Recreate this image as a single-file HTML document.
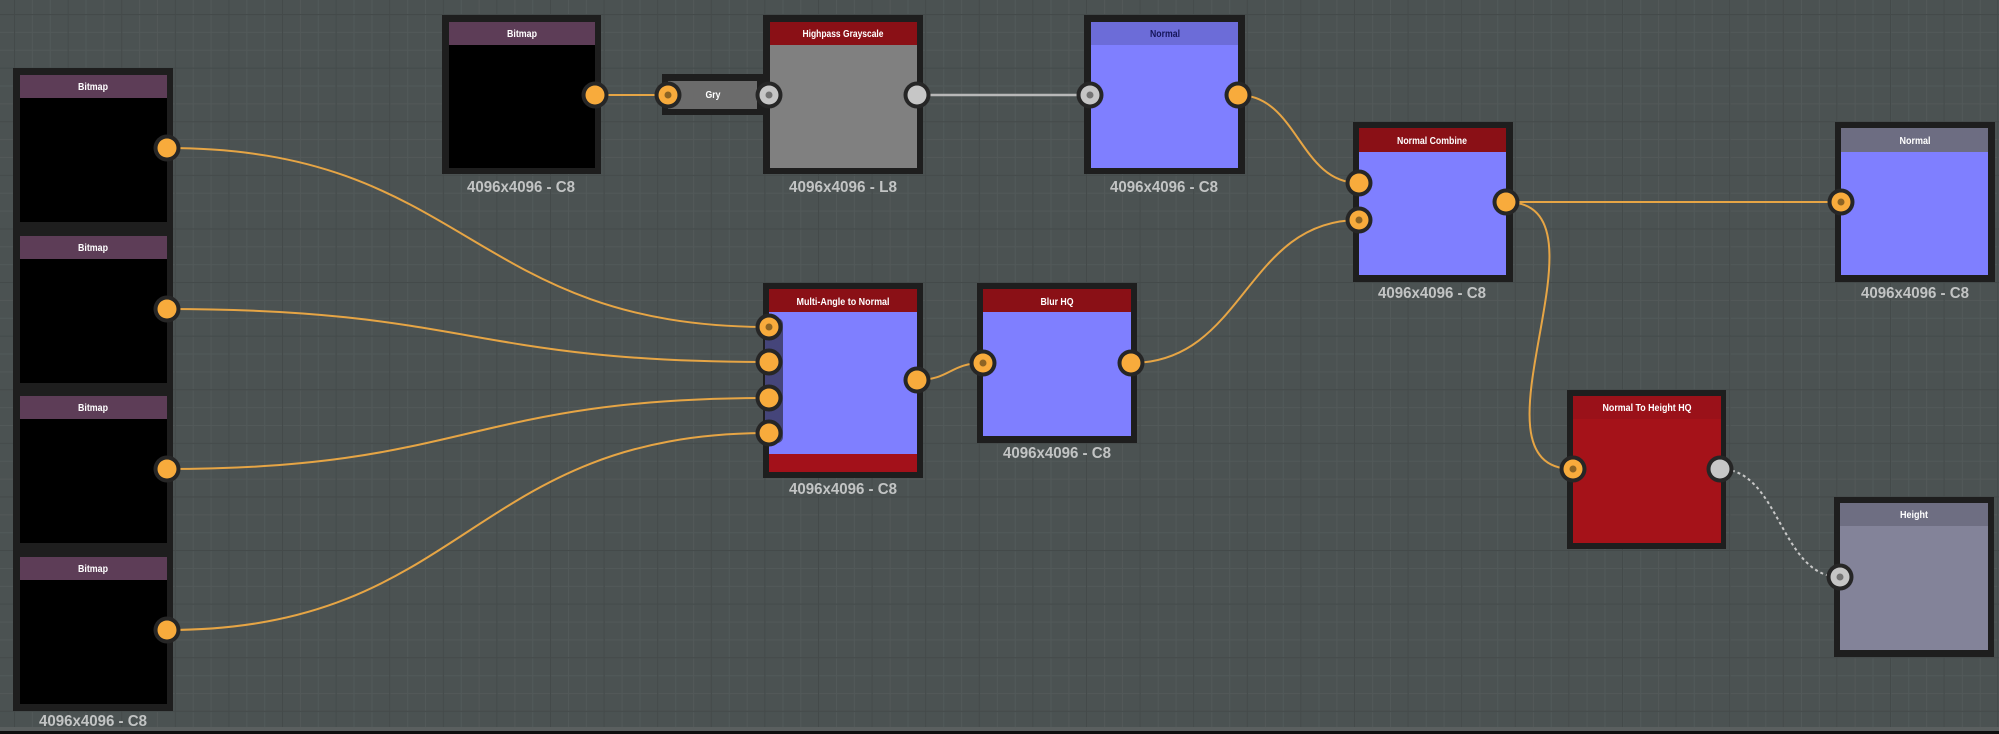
<!DOCTYPE html>
<html>
<head>
<meta charset="utf-8">
<style>
html,body{margin:0;padding:0;background:#4b5252;}
body{width:1999px;height:734px;overflow:hidden;}
svg{display:block;}
.h{font-family:"Liberation Sans",sans-serif;font-weight:bold;font-size:10px;fill:#ffffff;text-anchor:middle;}
.l{font-family:"Liberation Sans",sans-serif;font-weight:bold;font-size:16px;fill:#c2c4c4;text-anchor:middle;}
</style>
</head>
<body>
<svg width="1999" height="734" viewBox="0 0 1999 734" xmlns="http://www.w3.org/2000/svg">
<defs>
<pattern id="minor" x="14" y="14" width="17.87" height="17.87" patternUnits="userSpaceOnUse">
<path d="M0 0.5H17.87M0.5 0V17.87" stroke="#525959" stroke-width="1" fill="none"/>
</pattern>
<pattern id="major" x="14" y="14" width="53.6" height="53.6" patternUnits="userSpaceOnUse">
<path d="M0 0.5H53.6M0.5 0V53.6" stroke="#444a4a" stroke-width="1.2" fill="none"/>
</pattern>
</defs>
<rect x="0" y="0" width="1999" height="734" fill="#4b5252"/>
<rect x="0" y="0" width="1999" height="734" fill="url(#minor)"/>
<rect x="0" y="0" width="1999" height="734" fill="url(#major)"/>
<rect x="0" y="727" width="1999" height="4" fill="#5a5f5f"/>
<rect x="0" y="731" width="1999" height="3" fill="#0e0e0e"/>

<!-- wires -->
<g fill="none" stroke="#e6a545" stroke-width="2">
<path d="M167 148 C468 148 468 327 769 327"/>
<path d="M167 309 C468 309 468 362 769 362"/>
<path d="M167 469 C468 469 468 398 769 398"/>
<path d="M167 630 C468 630 468 433 769 433"/>
<path d="M595 95 L668 95"/>
<path d="M1238 95 C1298 95 1299 183 1359 183"/>
<path d="M917 380 C950 380 950 363 983 363"/>
<path d="M1131 363 C1245 363 1245 220 1359 220"/>
<path d="M1506 202 L1841 202"/>
<path d="M1506 202 C1621 202 1458 469 1573 469"/>
</g>
<path d="M917 95 L1090 95" stroke="#b8b8b8" stroke-width="2.5" fill="none"/>
<path d="M1720 469 C1780 469 1780 577 1840 577" stroke="#c8c8c8" stroke-width="2" stroke-dasharray="3 3" fill="none"/>

<!-- Left column bitmaps -->
<rect x="13" y="68" width="160" height="643" fill="#1e1e1e"/>
<rect x="20" y="75" width="147" height="23" fill="#5d3d57"/>
<rect x="20" y="98" width="147" height="124" fill="#000"/>
<rect x="20" y="236" width="147" height="23" fill="#5d3d57"/>
<rect x="20" y="259" width="147" height="124" fill="#000"/>
<rect x="20" y="396" width="147" height="23" fill="#5d3d57"/>
<rect x="20" y="419" width="147" height="124" fill="#000"/>
<rect x="20" y="557" width="147" height="23" fill="#5d3d57"/>
<rect x="20" y="580" width="147" height="124" fill="#000"/>
<text class="h" x="93" y="90" textLength="30" lengthAdjust="spacingAndGlyphs">Bitmap</text>
<text class="h" x="93" y="251" textLength="30" lengthAdjust="spacingAndGlyphs">Bitmap</text>
<text class="h" x="93" y="411" textLength="30" lengthAdjust="spacingAndGlyphs">Bitmap</text>
<text class="h" x="93" y="572" textLength="30" lengthAdjust="spacingAndGlyphs">Bitmap</text>
<text class="l" x="93" y="726" textLength="108" lengthAdjust="spacingAndGlyphs">4096x4096 - C8</text>

<!-- Top bitmap -->
<rect x="442" y="15" width="159" height="159" fill="#1e1e1e"/>
<rect x="449" y="22" width="146" height="23" fill="#5d3d57"/>
<rect x="449" y="45" width="146" height="123" fill="#000"/>
<text class="h" x="522" y="37" textLength="30" lengthAdjust="spacingAndGlyphs">Bitmap</text>
<text class="l" x="521" y="192" textLength="108" lengthAdjust="spacingAndGlyphs">4096x4096 - C8</text>

<!-- Gry -->
<rect x="662" y="74" width="101" height="41" fill="#1e1e1e"/>
<rect x="668" y="81" width="89" height="28" fill="#6b6b6b"/>
<text class="h" x="713" y="98" textLength="15" lengthAdjust="spacingAndGlyphs">Gry</text>

<!-- Highpass -->
<rect x="763" y="15" width="160" height="159" fill="#1e1e1e"/>
<rect x="770" y="22" width="147" height="23" fill="#8a1016"/>
<rect x="770" y="45" width="147" height="123" fill="#808080"/>
<text class="h" x="843" y="37" textLength="81" lengthAdjust="spacingAndGlyphs">Highpass Grayscale</text>
<text class="l" x="843" y="192" textLength="108" lengthAdjust="spacingAndGlyphs">4096x4096 - L8</text>

<!-- Normal top -->
<rect x="1084" y="15" width="161" height="159" fill="#1e1e1e"/>
<rect x="1091" y="22" width="147" height="23" fill="#6c6cd8"/>
<rect x="1091" y="45" width="147" height="123" fill="#7f7fff"/>
<text class="h" x="1165" y="37" textLength="30" lengthAdjust="spacingAndGlyphs" style="fill:#15155a">Normal</text>
<text class="l" x="1164" y="192" textLength="108" lengthAdjust="spacingAndGlyphs">4096x4096 - C8</text>

<!-- Normal Combine -->
<rect x="1353" y="122" width="160" height="160" fill="#1e1e1e"/>
<rect x="1359" y="128" width="147" height="24" fill="#8a1016"/>
<rect x="1359" y="152" width="147" height="123" fill="#7f7fff"/>
<text class="h" x="1432" y="144" textLength="70" lengthAdjust="spacingAndGlyphs">Normal Combine</text>
<text class="l" x="1432" y="298" textLength="108" lengthAdjust="spacingAndGlyphs">4096x4096 - C8</text>

<!-- Output Normal -->
<rect x="1835" y="122" width="160" height="160" fill="#1e1e1e"/>
<rect x="1841" y="128" width="147" height="24" fill="#6d6d82"/>
<rect x="1841" y="152" width="147" height="123" fill="#7f7fff"/>
<text class="h" x="1915" y="144" textLength="31" lengthAdjust="spacingAndGlyphs">Normal</text>
<text class="l" x="1915" y="298" textLength="108" lengthAdjust="spacingAndGlyphs">4096x4096 - C8</text>

<!-- Multi-Angle to Normal -->
<rect x="763" y="283" width="160" height="195" fill="#1e1e1e"/>
<rect x="769" y="289" width="148" height="23" fill="#8a1016"/>
<rect x="769" y="312" width="148" height="142" fill="#7f7fff"/>
<rect x="769" y="454" width="148" height="18" fill="#a3111a"/>
<rect x="765" y="318" width="18" height="125" rx="6" fill="#45457a"/>
<text class="h" x="843" y="305" textLength="93" lengthAdjust="spacingAndGlyphs">Multi-Angle to Normal</text>
<text class="l" x="843" y="494" textLength="108" lengthAdjust="spacingAndGlyphs">4096x4096 - C8</text>

<!-- Blur HQ -->
<rect x="977" y="283" width="160" height="160" fill="#1e1e1e"/>
<rect x="983" y="289" width="148" height="23" fill="#8a1016"/>
<rect x="983" y="312" width="148" height="124" fill="#7f7fff"/>
<text class="h" x="1057" y="305" textLength="33" lengthAdjust="spacingAndGlyphs">Blur HQ</text>
<text class="l" x="1057" y="458" textLength="108" lengthAdjust="spacingAndGlyphs">4096x4096 - C8</text>

<!-- Normal To Height HQ -->
<rect x="1567" y="390" width="159" height="159" fill="#1e1e1e"/>
<rect x="1573" y="396" width="148" height="23" fill="#9a1119"/>
<rect x="1573" y="419" width="148" height="124" fill="#a51219"/>
<text class="h" x="1647" y="411" textLength="89" lengthAdjust="spacingAndGlyphs">Normal To Height HQ</text>

<!-- Height -->
<rect x="1834" y="497" width="160" height="160" fill="#1e1e1e"/>
<rect x="1840" y="503" width="148" height="23" fill="#6e6e82"/>
<rect x="1840" y="526" width="148" height="124" fill="#838399"/>
<text class="h" x="1914" y="518" textLength="28" lengthAdjust="spacingAndGlyphs">Height</text>

<!-- pins -->
<g>
<!-- orange no dot -->
<g fill="#262626">
<circle cx="167" cy="148" r="13.5"/><circle cx="167" cy="309" r="13.5"/><circle cx="167" cy="469" r="13.5"/><circle cx="167" cy="630" r="13.5"/>
<circle cx="595" cy="95" r="13.5"/><circle cx="668" cy="95" r="13.5"/><circle cx="769" cy="95" r="13.5"/><circle cx="917" cy="95" r="13.5"/>
<circle cx="1090" cy="95" r="13.5"/><circle cx="1238" cy="95" r="13.5"/>
<circle cx="1359" cy="183" r="13.5"/><circle cx="1359" cy="220" r="13.5"/><circle cx="1506" cy="202" r="13.5"/><circle cx="1841" cy="202" r="13.5"/>
<circle cx="769" cy="327" r="13.5"/><circle cx="769" cy="362" r="13.5"/><circle cx="769" cy="398" r="13.5"/><circle cx="769" cy="433" r="13.5"/>
<circle cx="917" cy="380" r="13.5"/><circle cx="983" cy="363" r="13.5"/><circle cx="1131" cy="363" r="13.5"/>
<circle cx="1573" cy="469" r="13.5"/><circle cx="1720" cy="469" r="13.5"/><circle cx="1840" cy="577" r="13.5"/>
</g>
<g fill="#f8ab3c">
<circle cx="167" cy="148" r="9.5"/><circle cx="167" cy="309" r="9.5"/><circle cx="167" cy="469" r="9.5"/><circle cx="167" cy="630" r="9.5"/>
<circle cx="595" cy="95" r="9.5"/><circle cx="668" cy="95" r="9.5"/><circle cx="1238" cy="95" r="9.5"/>
<circle cx="1359" cy="183" r="9.5"/><circle cx="1359" cy="220" r="9.5"/><circle cx="1506" cy="202" r="9.5"/><circle cx="1841" cy="202" r="9.5"/>
<circle cx="769" cy="327" r="9.5"/><circle cx="769" cy="362" r="9.5"/><circle cx="769" cy="398" r="9.5"/><circle cx="769" cy="433" r="9.5"/>
<circle cx="917" cy="380" r="9.5"/><circle cx="983" cy="363" r="9.5"/><circle cx="1131" cy="363" r="9.5"/>
<circle cx="1573" cy="469" r="9.5"/>
</g>
<g fill="#c6c6c6">
<circle cx="769" cy="95" r="9.5"/><circle cx="917" cy="95" r="9.5"/><circle cx="1090" cy="95" r="9.5"/>
<circle cx="1720" cy="469" r="9.5"/><circle cx="1840" cy="577" r="9.5"/>
</g>
<g fill="#8d6424">
<circle cx="668" cy="95" r="3.5"/><circle cx="1359" cy="220" r="3.5"/><circle cx="1841" cy="202" r="3.5"/>
<circle cx="769" cy="327" r="3.5"/><circle cx="983" cy="363" r="3.5"/><circle cx="1573" cy="469" r="3.5"/>
</g>
<g fill="#747474">
<circle cx="769" cy="95" r="3.5"/><circle cx="1090" cy="95" r="3.5"/><circle cx="1840" cy="577" r="3.5"/>
</g>
</g>
</svg>
</body>
</html>
